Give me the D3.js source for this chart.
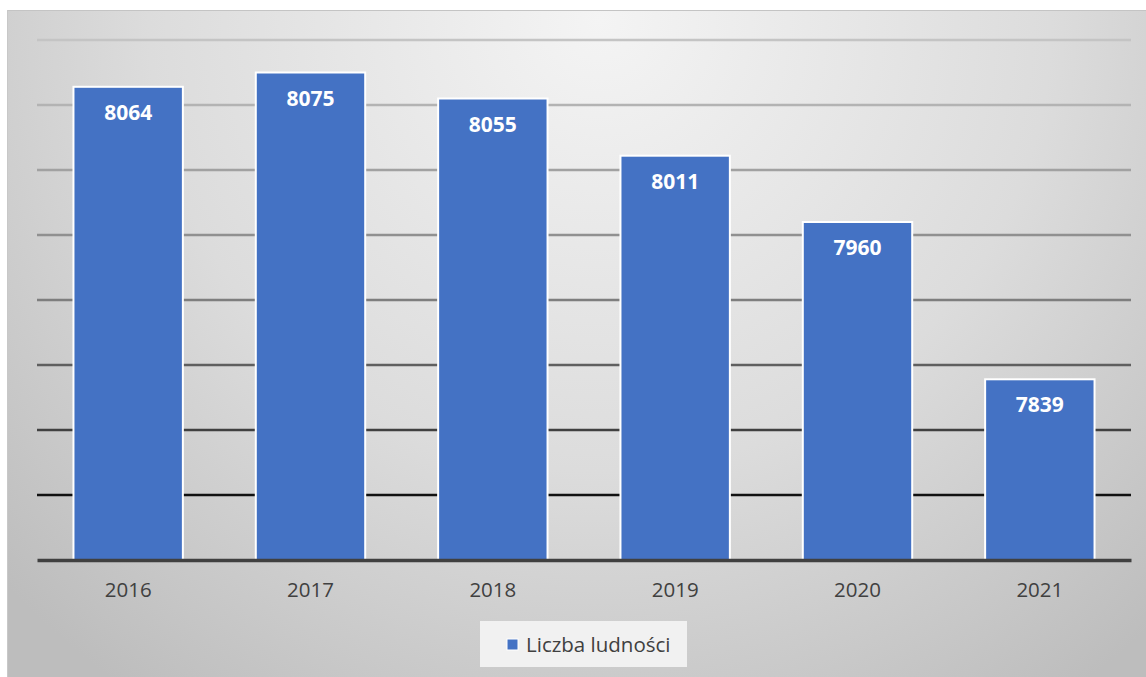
<!DOCTYPE html>
<html><head><meta charset="utf-8">
<script src="https://cdn.jsdelivr.net/npm/d3@7"></script>
<style>
html,body{margin:0;padding:0;background:#fff;}
svg{display:block;font-family:"Open Sans","Noto Sans",sans-serif;}
</style></head>
<body>
<svg id="chart" width="1146" height="677"></svg>
<script>
const categories = ["2016","2017","2018","2019","2020","2021"];
const values = [8064, 8075, 8055, 8011, 7960, 7839];
const gridTicks = [7700, 7750, 7800, 7850, 7900, 7950, 8000, 8050, 8100];
const seriesName = "Liczba ludności";

(function(){
const svg = d3.select("#chart");
const W = 1146, H = 677;
const defs = svg.append("defs");
const bg = defs.append("radialGradient").attr("id","bg")
  .attr("gradientUnits","userSpaceOnUse")
  .attr("cx", 600).attr("cy", 20).attr("r", 820);
bg.append("stop").attr("offset","0%").attr("stop-color","#f4f4f4");
bg.append("stop").attr("offset","55%").attr("stop-color","#dcdcdc");
bg.append("stop").attr("offset","100%").attr("stop-color","#bdbdbd");

svg.append("rect").attr("x",7).attr("y",10).attr("width",W-7).attr("height",H-10)
  .attr("fill","url(#bg)");
svg.append("line").attr("x1",7).attr("x2",W).attr("y1",10.5).attr("y2",10.5).attr("stroke","#c4c4c4").attr("stroke-width",1);
svg.append("line").attr("x1",7.5).attr("x2",7.5).attr("y1",10).attr("y2",H).attr("stroke","#c8c8c8").attr("stroke-width",1);

const pL = 37, pR = 1131, pT = 40, pB = 560;
const x = d3.scaleBand().domain(categories).range([pL, pR]).paddingInner(0.4).paddingOuter(0.2);
const y = d3.scaleLinear().domain([gridTicks[0], gridTicks[gridTicks.length-1]]).range([pB, pT]);

const gridColor = d3.scaleLinear().domain([40, 300, 430, 495]).range(["#c4c4c4","#7e7e7e","#404040","#111111"]);

const gridG = svg.append("g");
gridTicks.slice(1).forEach(t => {
  const yy = y(t);
  gridG.append("line").attr("x1",pL).attr("x2",pR).attr("y1",yy).attr("y2",yy)
    .attr("stroke", gridColor(yy)).attr("stroke-width",2.5);
});

svg.append("g").selectAll("rect").data(values).join("rect")
  .attr("x",(d,i)=>x(categories[i]))
  .attr("y",d=>y(d))
  .attr("width",x.bandwidth())
  .attr("height",d=>pB-y(d))
  .attr("fill","#4472c4").attr("stroke","#ffffff").attr("stroke-width",2);

svg.append("g").selectAll("text").data(values).join("text")
  .attr("x",(d,i)=>x(categories[i])+x.bandwidth()/2)
  .attr("y",d=>y(d)+33)
  .attr("text-anchor","middle").attr("fill","#ffffff")
  .attr("font-size",21).attr("font-weight","bold").text(d=>d);

const xAxis = svg.append("g").attr("transform",`translate(0,${pB})`)
  .call(d3.axisBottom(x).tickSize(0).tickPadding(22));
xAxis.select(".domain").attr("stroke","#404040").attr("stroke-width",3.5);
xAxis.selectAll("text").attr("font-size",20.5).attr("fill","#404040").attr("font-family","'Open Sans',sans-serif");

const lg = svg.append("g");
lg.append("rect").attr("x",480).attr("y",621).attr("width",207).attr("height",46).attr("fill","#f1f1f1");
lg.append("rect").attr("x",507).attr("y",639).attr("width",11).attr("height",11).attr("fill","#4472c4").attr("stroke","#fff").attr("stroke-width",1);
lg.append("text").attr("x",526).attr("y",652).attr("font-size",20.5).attr("fill","#404040").text(seriesName);
})();
</script>
</body></html>
